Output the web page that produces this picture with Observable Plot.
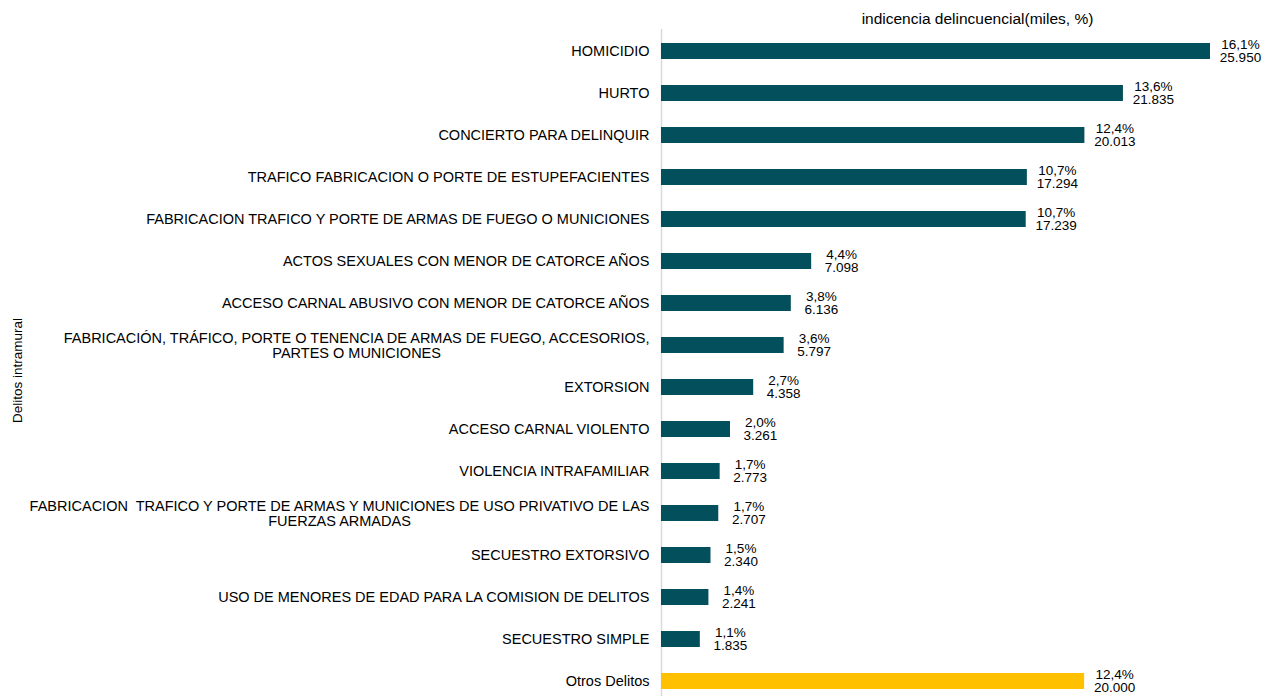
<!DOCTYPE html>
<html>
<head>
<meta charset="utf-8">
<script src="https://cdn.jsdelivr.net/npm/d3@7"></script>
<script src="https://cdn.jsdelivr.net/npm/@observablehq/plot@0.6"></script>
<style>
  html, body { margin: 0; padding: 0; background: #fff; }
  #chart svg { display: block; }
</style>
</head>
<body>
<div id="chart"></div>
<script>
const categories = [
  "HOMICIDIO",
  "HURTO",
  "CONCIERTO PARA DELINQUIR",
  "TRAFICO FABRICACION O PORTE DE ESTUPEFACIENTES",
  "FABRICACION TRAFICO Y PORTE DE ARMAS DE FUEGO O MUNICIONES",
  "ACTOS SEXUALES CON MENOR DE CATORCE AÑOS",
  "ACCESO CARNAL ABUSIVO CON MENOR DE CATORCE AÑOS",
  "FABRICACIÓN, TRÁFICO, PORTE O TENENCIA DE ARMAS DE FUEGO, ACCESORIOS,\nPARTES O MUNICIONES",
  "EXTORSION",
  "ACCESO CARNAL VIOLENTO",
  "VIOLENCIA INTRAFAMILIAR",
  "FABRICACION  TRAFICO Y PORTE DE ARMAS Y MUNICIONES DE USO PRIVATIVO DE LAS\nFUERZAS ARMADAS",
  "SECUESTRO EXTORSIVO",
  "USO DE MENORES DE EDAD PARA LA COMISION DE DELITOS",
  "SECUESTRO SIMPLE",
  "Otros Delitos"
];
const values = [25950, 21835, 20013, 17294, 17239, 7098, 6136, 5797, 4358, 3261, 2773, 2707, 2340, 2241, 1835, 20000];
const percents = [16.1, 13.6, 12.4, 10.7, 10.7, 4.4, 3.8, 3.6, 2.7, 2.0, 1.7, 1.7, 1.5, 1.4, 1.1, 12.4];
const groups = ["main","main","main","main","main","main","main","main","main","main","main","main","main","main","main","otros"];
const chartTitle = "indicencia delincuencial(miles, %)";
const yTitle = "Delitos intramural";

const data = categories.map((c, i) => ({cat: c, value: values[i], pct: percents[i], group: groups[i]}));

const loc = d3.formatLocale({decimal: ",", thousands: ".", grouping: [3], currency: ["", ""]});
const fmtVal = loc.format(",d");
const fmtPct = loc.format(".1f");

const font = "'Liberation Sans', Arial, sans-serif";

const plot = Plot.plot({
  width: 1265,
  height: 696,
  marginLeft: 661,
  marginRight: 0,
  marginTop: 36,
  marginBottom: 0,
  style: {fontFamily: font, fontSize: "13px", color: "#000", background: "#fff"},
  x: {domain: [0, 28550], axis: null},
  y: {domain: categories, paddingInner: 0.62, paddingOuter: 0.12, label: null},
  color: {domain: ["main", "otros"], range: ["#034f5b", "#ffc000"]},
  marks: [
    Plot.axisY({tickSize: 0, tickPadding: 12, fontSize: 14.5, lineHeight: 1.04, label: null, fill: "#000"}),
    Plot.ruleX([0], {stroke: "#d9d9d9", strokeWidth: 1.5, insetTop: -7}),
    Plot.barX(data, {x: "value", y: "cat", fill: "group"}),
    Plot.text(data, {
      x: "value", y: "cat",
      text: d => fmtPct(d.pct) + "%\n" + fmtVal(d.value),
      textAnchor: "middle", dx: 30, fontSize: 13.5, lineHeight: 0.98, fill: "#000"
    }),
    Plot.text([chartTitle], {frameAnchor: "top", lineAnchor: "middle", dx: 14, dy: -17, fontSize: 15.5, fill: "#000"}),
    Plot.text([yTitle], {frameAnchor: "left", textAnchor: "middle", rotate: -90, dx: -644, dy: 4, fontSize: 13.5, fill: "#000"})
  ]
});

document.getElementById("chart").appendChild(plot);

// center multi-line category labels on their widest line (right-aligned block)
plot.querySelectorAll("[aria-label='y-axis tick label'] text").forEach(t => {
  const spans = t.querySelectorAll("tspan");
  if (spans.length > 1) {
    const w = t.getBBox().width;
    t.setAttribute("text-anchor", "middle");
    spans.forEach(s => s.setAttribute("x", -w / 2));
  }
});
</script>
</body>
</html>
